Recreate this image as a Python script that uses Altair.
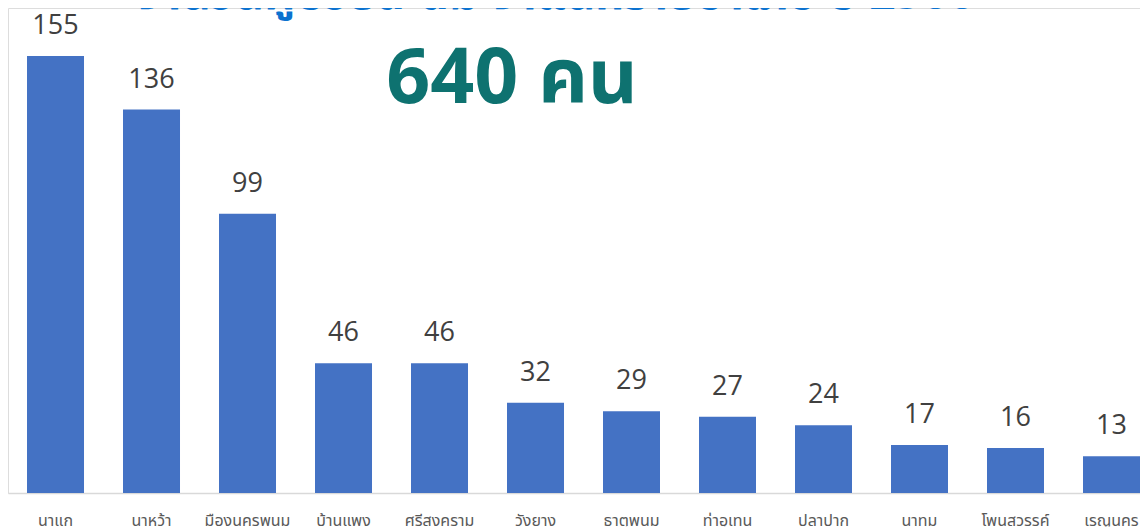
import altair as alt
import pandas as pd

districts = ["นาแก", "นาหว้า", "มืองนครพนม", "บ้านแพง", "ศรีสงคราม", "วังยาง",
             "ธาตุพนม", "ท่าอุเทน", "ปลาปาก", "นาทม", "โพนสวรรค์", "เรณูนคร"]
counts = [155, 136, 99, 46, 46, 32, 29, 27, 24, 17, 16, 13]
total_label = "640 คน"
top_title = "จำนวนผู้ป่วยสะสม จำแนกรายอำเภอ ปี 2566"

df = pd.DataFrame({"district": districts, "count": counts})

thai_font = "'Noto Sans Thai', 'Noto Sans', 'Open Sans', sans-serif"

x = alt.X("district:N", sort=districts, title=None,
          scale=alt.Scale(paddingInner=0.40625, paddingOuter=0.099, align=1.0),
          axis=alt.Axis(labelAngle=0, ticks=False, domainColor="#d9d9d9", domainWidth=1.5,
                        labelColor="#595959", labelFontSize=16, labelFont=thai_font,
                        labelPadding=19, labelBaseline="top", grid=False))
y = alt.Y("count:Q", scale=alt.Scale(domain=[0, 172], nice=False), axis=None)

bars = alt.Chart(df).mark_bar(color="#4472c4").encode(x=x, y=y)
labels = alt.Chart(df).mark_text(dy=-22, baseline="alphabetic", fontSize=27,
                                 color="#404040", font="'Open Sans', sans-serif").encode(
    x=x, y=y, text=alt.Text("count:Q"))

big = alt.Chart(pd.DataFrame({"t": [total_label]})).mark_text(
    fontSize=77, fontWeight="bold", color="#0e7270",
    font="'Open Sans', 'Noto Sans Thai', sans-serif",
    baseline="alphabetic", align="center").encode(
    x=alt.value(504), y=alt.value(95), text="t:N")

top = alt.Chart(pd.DataFrame({"t": [top_title]})).mark_text(
    fontSize=46, fontWeight="bold", color="#0b72cf", font=thai_font,
    baseline="alphabetic", align="center").encode(
    x=alt.value(547), y=alt.value(1), text="t:N")

chart = alt.layer(bars, labels, big, top).properties(
    width=1132, height=485,
    autosize=alt.AutoSizeParams(type="none"),
    padding={"left": 0, "top": 0, "right": 0, "bottom": 34},
).configure_view(strokeWidth=0).configure(background="white")

chart.save("out.html", embed_options={"renderer": "svg", "actions": False})
